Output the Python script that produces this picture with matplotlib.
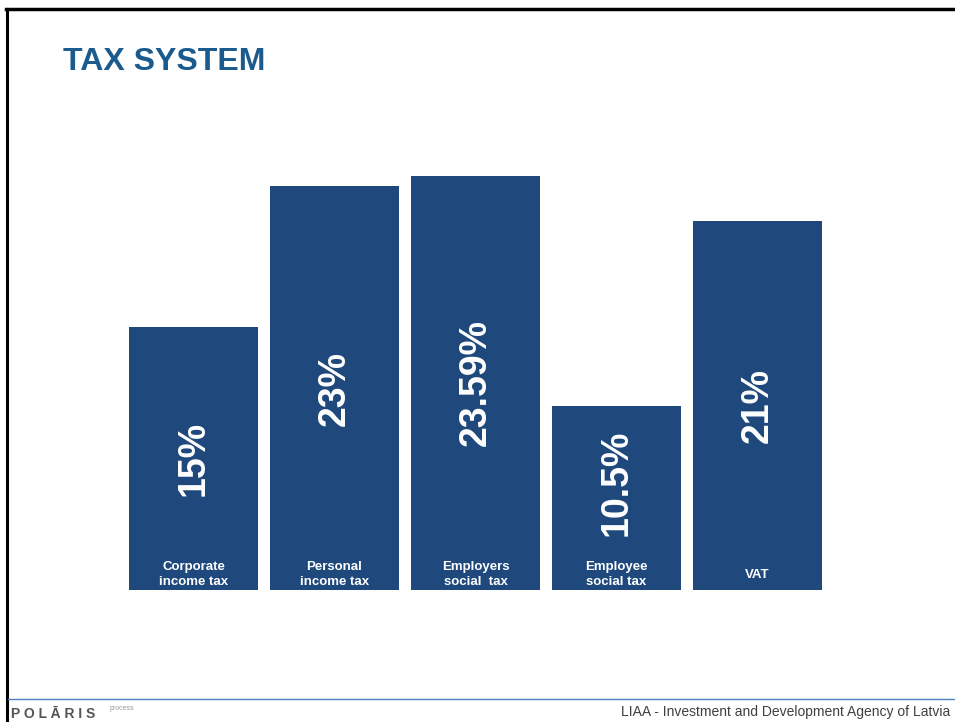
#!/usr/bin/env python3

"""
Latvian tax system slide: rates of the main taxes as plain bars.
"""

import matplotlib
matplotlib.use('Agg')
import matplotlib.pyplot as plt
from matplotlib.lines import Line2D

#data
categories = ['Corporate\nincome tax', 'Personal\nincome tax', 'Employers\nsocial  tax',
              'Employee\nsocial tax', 'VAT']
rates = [15, 23, 23.59, 10.5, 21]
rate_labels = ['15%', '23%', '23.59%', '10.5%', '21%']

#style
BAR_COLOR = '#1F497D'
TITLE_COLOR = '#1B5A8C'
plt.rcParams['font.family'] = ['Liberation Sans', 'DejaVu Sans']

fig = plt.figure(figsize=(9.55, 7.22), dpi=100)

#axes placed so bars span x 129..822 px and y 590 up to the tallest bar
ax = fig.add_axes([129 / 955, 132 / 722, 693 / 955, 414 / 722])
x = list(range(len(rates)))
width = 129 / 141
ax.bar(x, rates, width=width, color=BAR_COLOR)
ax.set_xlim(-width / 2, len(rates) - 1 + width / 2)
ax.set_ylim(0, max(rates))
ax.axis('off')

value_texts = []
for xi, value, label, cat in zip(x, rates, rate_labels, categories):
    t = ax.text(xi, value / 2, label, rotation=90, ha='center', va='center',
                color='white', fontsize=27, fontweight='bold')
    value_texts.append(t)
    ax.text(xi, 0.88, cat, ha='center', va='center', color='white',
            fontsize=9.5, fontweight='bold', linespacing=1.4)

#keep value labels clear of the category text at the bar foot
fig.canvas.draw()
renderer = fig.canvas.get_renderer()
min_bottom = 3.1
for t in value_texts:
    bb = t.get_window_extent(renderer).transformed(ax.transData.inverted())
    if bb.y0 < min_bottom:
        xt, yt = t.get_position()
        t.set_position((xt, yt + (min_bottom - bb.y0)))

#title
fig.text(63 / 955, 1 - 62 / 722, 'TAX SYSTEM', ha='left', va='center',
         color=TITLE_COLOR, fontsize=23, fontweight='bold')

#slide frame
fig.add_artist(Line2D([6 / 955, 1], [1 - 9 / 722, 1 - 9 / 722], color='black', lw=2.5))
fig.add_artist(Line2D([7 / 955, 7 / 955], [0, 1 - 9 / 722], color='black', lw=2.2))

#footer
fig.add_artist(Line2D([8 / 955, 1], [1 - 699 / 722, 1 - 699 / 722], color='#4F81BD', lw=1))
fig.text(950 / 955, 1 - 712 / 722, 'LIAA - Investment and Development Agency of Latvia',
         ha='right', va='center', color='#404040', fontsize=10)
fig.text(11 / 955, 1 - 714 / 722, 'P O L Ā R I S', ha='left', va='center',
         color='#555555', fontsize=10, fontweight='bold')
fig.text(110 / 955, 1 - 709 / 722, 'process', ha='left', va='center',
         color='#999999', fontsize=5)

fig.savefig('out.png', dpi=100)
